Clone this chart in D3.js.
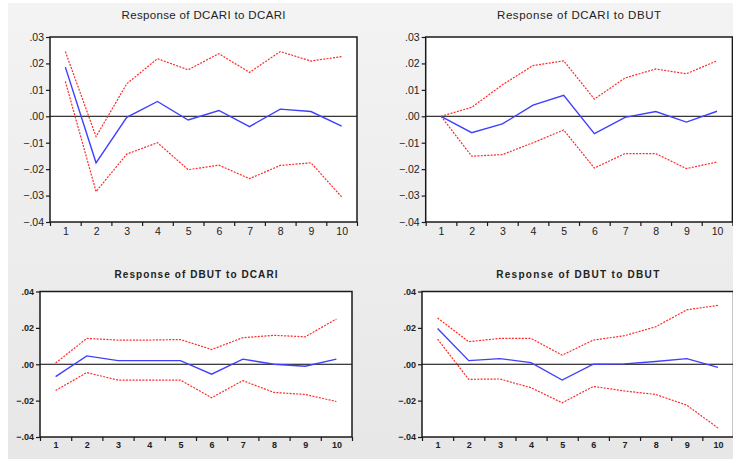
<!DOCTYPE html>
<html>
<head>
<meta charset="utf-8">
<script src="https://cdn.jsdelivr.net/npm/d3@7"></script>
<style>
  html, body { margin: 0; padding: 0; background: #fff; }
  svg { display: block; }
  text { font-family: "Liberation Sans", Arial, sans-serif; fill: #222; }
</style>
</head>
<body>
<svg id="chart" width="733" height="459"></svg>
<script>
const periods = [1, 2, 3, 4, 5, 6, 7, 8, 9, 10];

// Response of DCARI to DCARI
const dcariDcari   = [0.0186, -0.0176, -0.0004, 0.0056, -0.0014, 0.0022, -0.0039, 0.0027, 0.0018, -0.0037];
const dcariDcariUp = [0.0245, -0.0077, 0.0123, 0.0218, 0.0176, 0.0237, 0.0166, 0.0245, 0.0209, 0.0226];
const dcariDcariLo = [0.0132, -0.0285, -0.0143, -0.0100, -0.0202, -0.0185, -0.0236, -0.0186, -0.0176, -0.0305];

// Response of DCARI to DBUT
const dcariDbut   = [0.0000, -0.0062, -0.0029, 0.0042, 0.0079, -0.0066, -0.0004, 0.0018, -0.0022, 0.0019];
const dcariDbutUp = [0.0000, 0.0034, 0.0119, 0.0192, 0.0210, 0.0065, 0.0145, 0.0179, 0.0161, 0.0210];
const dcariDbutLo = [0.0000, -0.0151, -0.0145, -0.0100, -0.0052, -0.0196, -0.0141, -0.0141, -0.0198, -0.0173];

// Response of DBUT to DCARI
const dbutDcari   = [-0.0068, 0.0046, 0.0020, 0.0020, 0.0020, -0.0055, 0.0028, 0.0000, -0.0011, 0.0028];
const dbutDcariUp = [0.0007, 0.0142, 0.0133, 0.0133, 0.0136, 0.0081, 0.0146, 0.0159, 0.0151, 0.0249];
const dbutDcariLo = [-0.0144, -0.0046, -0.0087, -0.0087, -0.0087, -0.0184, -0.0090, -0.0155, -0.0166, -0.0205];

// Response of DBUT to DBUT
const dbutDbut   = [0.0197, 0.0020, 0.0031, 0.0009, -0.0087, 0.0000, 0.0002, 0.0015, 0.0031, -0.0017];
const dbutDbutUp = [0.0254, 0.0124, 0.0142, 0.0142, 0.0050, 0.0133, 0.0157, 0.0206, 0.0299, 0.0324];
const dbutDbutLo = [0.0138, -0.0083, -0.0081, -0.0129, -0.0212, -0.0122, -0.0147, -0.0166, -0.0225, -0.0350];

const topTicks = [0.03, 0.02, 0.01, 0.00, -0.01, -0.02, -0.03, -0.04];
const bottomTicks = [0.04, 0.02, 0.00, -0.02, -0.04];

const panels = [
  { title: "Response of DCARI to DCARI", resp: dcariDcari, up: dcariDcariUp, lo: dcariDcariLo,
    ticks: topTicks, box: [50, 37, 357, 222], bottomRow: false },
  { title: "Response of DCARI to DBUT", resp: dcariDbut, up: dcariDbutUp, lo: dcariDbutLo,
    ticks: topTicks, box: [425.7, 37, 732.4, 222], bottomRow: false },
  { title: "Response of DBUT to DCARI", resp: dbutDcari, up: dbutDcariUp, lo: dbutDcariLo,
    ticks: bottomTicks, box: [40, 291.5, 352, 437], bottomRow: true },
  { title: "Response of DBUT to DBUT", resp: dbutDbut, up: dbutDbutUp, lo: dbutDbutLo,
    ticks: bottomTicks, box: [422, 291.5, 733.5, 437], bottomRow: true },
];

const svg = d3.select("#chart");

const grad = svg.append("defs").append("linearGradient")
  .attr("id", "bg").attr("x1", 0).attr("y1", 0).attr("x2", 0).attr("y2", 1);
grad.append("stop").attr("offset", "0%").attr("stop-color", "#f3f3f3");
grad.append("stop").attr("offset", "100%").attr("stop-color", "#e7e7e7");

svg.append("rect").attr("x", 8).attr("y", 3).attr("width", 725).attr("height", 456)
  .attr("fill", "url(#bg)");

const fmt = (d) => d3.format(".2f")(d).replace("0.", ".");

panels.forEach((p) => {
  const [x0, y0, x1, y1] = p.box;
  const g = svg.append("g");

  const x = d3.scaleLinear().domain([0.5, 10.5]).range([x0, x1]);
  const y = d3.scaleLinear().domain(d3.extent(p.ticks)).range([y1, y0]);

  const small = p.bottomRow;

  g.append("rect")
    .attr("x", x0).attr("y", y0).attr("width", x1 - x0).attr("height", y1 - y0)
    .attr("fill", "#fff");

  // zero line
  g.append("line")
    .attr("x1", x0).attr("x2", x1).attr("y1", y(0)).attr("y2", y(0))
    .attr("stroke", "#000").attr("stroke-width", 1);

  const line = d3.line().x((d, i) => x(periods[i])).y((d) => y(d));

  [p.up, p.lo].forEach((band) => {
    g.append("path").datum(band)
      .attr("d", line).attr("fill", "none")
      .attr("stroke", "#ff2a2a").attr("stroke-width", 1.2)
      .attr("stroke-dasharray", "2,1.3");
  });
  g.append("path").datum(p.resp)
    .attr("d", line).attr("fill", "none")
    .attr("stroke", "#3f3fff").attr("stroke-width", 1.4);

  g.append("rect")
    .attr("x", x0).attr("y", y0).attr("width", x1 - x0).attr("height", y1 - y0)
    .attr("fill", "none").attr("stroke", "#1a1a1a").attr("stroke-width", 1.5);

  // y axis
  const yAxis = g.append("g").attr("transform", `translate(${x0},0)`)
    .call(d3.axisLeft(y).tickValues(p.ticks).tickFormat(fmt)
      .tickSizeInner(4).tickSizeOuter(0).tickPadding(2));
  yAxis.select(".domain").remove();
  yAxis.selectAll("line").attr("stroke", "#1a1a1a").attr("stroke-width", 1.2);
  yAxis.selectAll("text")
    .attr("font-family", "Liberation Sans, Arial, sans-serif")
    .attr("font-size", small ? 9 : 10.5)
    .attr("font-weight", small ? "bold" : "normal")
    .attr("fill", "#222");

  // x axis: ticks at category boundaries, labels at centres
  const xTicks = g.append("g").attr("transform", `translate(0,${y1})`)
    .call(d3.axisBottom(x).tickValues(d3.range(0.5, 11, 1)).tickFormat("")
      .tickSizeInner(4).tickSizeOuter(0));
  xTicks.select(".domain").remove();
  xTicks.selectAll("line").attr("stroke", "#1a1a1a").attr("stroke-width", 1.2);

  const xLabels = g.append("g").attr("transform", `translate(0,${y1})`)
    .call(d3.axisBottom(x).tickValues(periods).tickSize(0).tickPadding(small ? 5 : 6));
  xLabels.select(".domain").remove();
  xLabels.selectAll("text")
    .attr("font-family", "Liberation Sans, Arial, sans-serif")
    .attr("font-size", small ? 9 : 10.5)
    .attr("font-weight", small ? "bold" : "normal")
    .attr("fill", "#222");

  // title
  g.append("text")
    .attr("x", (x0 + x1) / 2)
    .attr("y", small ? y0 - 14 : y0 - 18)
    .attr("text-anchor", "middle")
    .attr("font-size", small ? 10 : 11.5)
    .attr("font-weight", small ? "bold" : "normal")
    .attr("textLength", small ? 163 : 164)
    .attr("lengthAdjust", "spacing")
    .text(p.title);
});
</script>
</body>
</html>
